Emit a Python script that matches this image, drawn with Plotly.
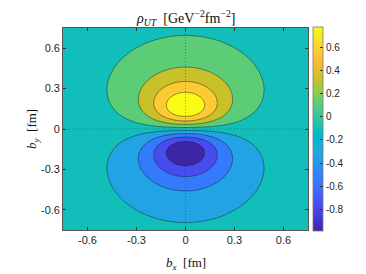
import numpy as np
import plotly.graph_objects as go

# ---- data ----
# model field rho_UT(bx, by) = AMP * by * (1 + r^2/LAM^2)^(-POW), r^2 = (bx/ANISO)^2 + by^2
AMP = 9.04        # GeV^-2 fm^-3
LAM = 0.336       # fm
POW = 2.49
ANISO = 1.02
axis_lim = 0.75
contour_start = -0.7
contour_end = 0.7
contour_step = 0.2
cbar_min = -0.99
cbar_max = 0.78
axis_ticks = [-0.6, -0.3, 0, 0.3, 0.6]
axis_ticktext = ["-0.6", "-0.3", "0", "0.3", "0.6"]
cbar_ticks = [-0.8, -0.6, -0.4, -0.2, 0, 0.2, 0.4, 0.6]
cbar_ticktext = ["-0.8", "-0.6", "-0.4", "-0.2", "0", "0.2", "0.4", "0.6"]

parula_rgb = [
    (0.2422, 0.1504, 0.6603), (0.2504, 0.1650, 0.7076), (0.2578, 0.1818, 0.7511), (0.2647, 0.1978, 0.7952),
    (0.2706, 0.2147, 0.8364), (0.2751, 0.2342, 0.8710), (0.2783, 0.2559, 0.8991), (0.2803, 0.2782, 0.9221),
    (0.2813, 0.3006, 0.9414), (0.2810, 0.3228, 0.9579), (0.2795, 0.3447, 0.9717), (0.2760, 0.3667, 0.9829),
    (0.2699, 0.3892, 0.9906), (0.2602, 0.4123, 0.9952), (0.2440, 0.4358, 0.9988), (0.2206, 0.4603, 0.9973),
    (0.1963, 0.4847, 0.9892), (0.1834, 0.5074, 0.9798), (0.1786, 0.5289, 0.9682), (0.1764, 0.5499, 0.9520),
    (0.1687, 0.5703, 0.9359), (0.1540, 0.5902, 0.9218), (0.1460, 0.6091, 0.9079), (0.1380, 0.6276, 0.8973),
    (0.1248, 0.6459, 0.8883), (0.1113, 0.6635, 0.8763), (0.0952, 0.6798, 0.8598), (0.0689, 0.6948, 0.8394),
    (0.0297, 0.7082, 0.8163), (0.0036, 0.7197, 0.7917), (0.0067, 0.7312, 0.7650), (0.0433, 0.7411, 0.7394),
    (0.0964, 0.7500, 0.7120), (0.1408, 0.7584, 0.6842), (0.1717, 0.7670, 0.6554), (0.1938, 0.7758, 0.6251),
    (0.2161, 0.7843, 0.5923), (0.2470, 0.7918, 0.5567), (0.2906, 0.7973, 0.5188), (0.3406, 0.8008, 0.4789),
    (0.3909, 0.8029, 0.4354), (0.4456, 0.8024, 0.3909), (0.5044, 0.7993, 0.3480), (0.5616, 0.7942, 0.3045),
    (0.6174, 0.7876, 0.2612), (0.6720, 0.7793, 0.2227), (0.7242, 0.7698, 0.1910), (0.7738, 0.7598, 0.1646),
    (0.8203, 0.7498, 0.1535), (0.8634, 0.7406, 0.1596), (0.9035, 0.7330, 0.1774), (0.9393, 0.7288, 0.2100),
    (0.9728, 0.7298, 0.2394), (0.9956, 0.7434, 0.2371), (0.9970, 0.7659, 0.2199), (0.9952, 0.7893, 0.2028),
    (0.9892, 0.8136, 0.1885), (0.9786, 0.8386, 0.1766), (0.9676, 0.8639, 0.1643), (0.9610, 0.8890, 0.1537),
    (0.9597, 0.9135, 0.1423), (0.9628, 0.9373, 0.1265), (0.9691, 0.9606, 0.1064), (0.9769, 0.9839, 0.0805),
]
n = len(parula_rgb)
parula = [[i / (n - 1), "rgb(%d,%d,%d)" % tuple(round(255 * c) for c in rgb)] for i, rgb in enumerate(parula_rgb)]

# ---- grid ----
bx = np.linspace(-axis_lim, axis_lim, 301)
by = np.linspace(-axis_lim, axis_lim, 301)
BX, BY = np.meshgrid(bx, by)
R2 = (BX / ANISO) ** 2 + BY ** 2
Z = AMP * BY * (1 + R2 / LAM ** 2) ** (-POW)

sans = "Liberation Sans, Arial, sans-serif"
serif = "Liberation Serif, Times New Roman, serif"

fig = go.Figure()
fig.add_trace(go.Contour(
    x=bx, y=by, z=Z,
    autocontour=False,
    contours=dict(start=contour_start, end=contour_end, size=contour_step, coloring="fill", showlines=True),
    line=dict(color="rgba(25,25,25,0.8)", width=0.6, smoothing=1),
    colorscale=parula, showscale=False, hoverinfo="skip",
))
# colorbar (continuous parula)
fig.add_trace(go.Scatter(
    x=[0], y=[0], mode="markers", hoverinfo="skip", showlegend=False,
    marker=dict(size=1, opacity=0, color=[0], colorscale=parula, cmin=cbar_min, cmax=cbar_max, showscale=True,
                colorbar=dict(thickness=10, len=1.01, lenmode="fraction", y=0.5, yanchor="middle",
                              x=1.019, xanchor="left", xpad=0, ypad=0,
                              outlinewidth=0.8, outlinecolor="#7a7a7a",
                              ticks="inside", ticklen=3, tickwidth=0.6, tickcolor="#333",
                              tickvals=cbar_ticks, ticktext=cbar_ticktext,
                              tickfont=dict(family=sans, size=10, color="#262626"))),
))
fig.add_hline(y=0, line=dict(color="rgba(40,40,40,0.6)", width=0.7, dash="1px,2px"))
fig.add_vline(x=0, line=dict(color="rgba(40,40,40,0.6)", width=0.7, dash="1px,2px"))

axis_common = dict(
    range=[-axis_lim, axis_lim], tickvals=axis_ticks, ticktext=axis_ticktext,
    ticks="inside", ticklen=3, tickwidth=0.6, tickcolor="#333",
    showline=True, linecolor="#555", linewidth=0.7, mirror="ticks",
    showgrid=False, zeroline=False, tickfont=dict(family=sans, size=11, color="#262626"),
)
fig.update_xaxes(**axis_common)
fig.update_yaxes(**axis_common)

fig.add_annotation(text="<i>ρ<sub>UT</sub></i>  [GeV<sup>−2</sup>fm<sup>−2</sup>]", xref="paper", yref="paper",
                   x=0.5, y=1, yanchor="middle", yshift=10, showarrow=False,
                   font=dict(family=serif, size=14, color="#111"))
fig.add_annotation(text="<i>b<sub>x</sub></i>  [fm]", xref="paper", yref="paper",
                   x=0.5, y=0, yanchor="middle", yshift=-33, showarrow=False,
                   font=dict(family=serif, size=13, color="#111"))
fig.add_annotation(text="<i>b<sub>y</sub></i>  [fm]", xref="paper", yref="paper", textangle=-90,
                   x=0, y=0.5, xanchor="center", xshift=-31, showarrow=False,
                   font=dict(family=serif, size=13, color="#111"))

# the page body adds an 8px offset; figure size and margins compensate for it
fig.update_layout(
    width=358, height=266,
    margin=dict(l=55, r=58, t=20, b=44),
    paper_bgcolor="white", plot_bgcolor="white",
    showlegend=False,
)
fig.write_html("out.html")
